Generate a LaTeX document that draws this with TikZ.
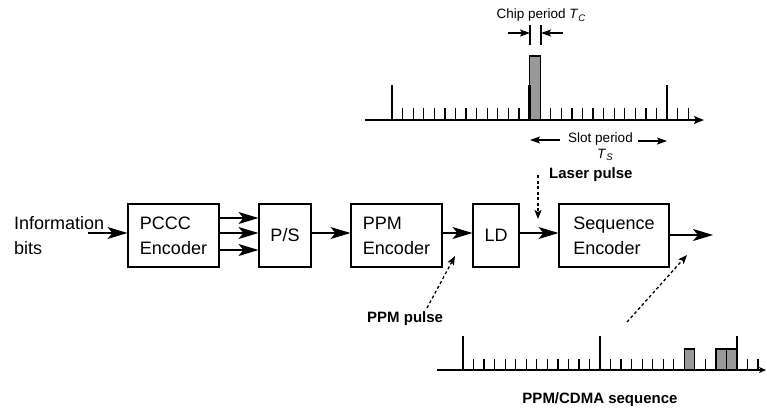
\documentclass[tikz,border=0pt]{standalone}
\usepackage{fontspec}
\setmainfont{Liberation Sans}
\usetikzlibrary{arrows.meta}
\begin{document}
\begin{tikzpicture}[x=1pt,y=-1pt,
  blk/.style={draw,line width=1.1pt,minimum height=63pt,inner sep=0pt,align=left,font=\fontsize{18}{25}\selectfont},
  big/.style={line width=1.1pt,-{Stealth[length=20pt,width=12pt,inset=5pt]}},
  dots/.style={line width=1.3pt,dash pattern=on 3pt off 2.5pt,-{Stealth[length=9pt,width=7pt,inset=2pt]}},
  smallarr/.style={line width=1.1pt,-{Stealth[length=10pt,width=7pt,inset=2pt]}},
  smalltxt/.style={font=\fontsize{13.5}{16}\selectfont,inner sep=0pt},
  boldtxt/.style={font=\fontsize{15}{18}\selectfont\bfseries,inner sep=0pt},
  axisln/.style={line width=1.6pt,-{Stealth[length=10pt,width=8pt,inset=2pt]}},
  tallt/.style={line width=2.6pt},
  shortt/.style={line width=1.3pt},
  chip/.style={draw,line width=1.2pt,fill=black!40}]
\useasboundingbox (0,0) rectangle (767,412);

% ---------- main chain ----------
\node[inner sep=0pt,align=left,anchor=west,font=\fontsize{18}{25}\selectfont] (info) at (14,236) {Information\\bits};
\coordinate (infoarr) at (88,233);
\node[blk,minimum width=91pt] (pccc) at (173.5,235.5) {PCCC\\Encoder};
\node[blk,minimum width=52pt] (ps) at (285,235.5) {P/S};
\node[blk,minimum width=91pt] (ppm) at (396.5,235.5) {PPM\\Encoder};
\node[blk,minimum width=46pt] (ld) at (496,235.5) {LD};
\node[blk,minimum width=110pt] (seq) at (614,235.5) {Sequence\\Encoder};
\coordinate (out) at (713,235);

\draw[big] (infoarr) -- (pccc.west |- infoarr);
\foreach \yy in {218,233,250} \draw[big] (pccc.east |- 0,\yy) -- (ps.west |- 0,\yy);
\draw[big] (ps.east |- 0,233) -- (ppm.west |- 0,233);
\draw[big] (ppm.east |- 0,233) -- (ld.west |- 0,233);
\draw[big] (ld.east |- 0,233) -- (seq.west |- 0,233);
\draw[big] (seq.east |- out) -- (out);

% ---------- top sequence ----------
\def\tz{392}\def\dz{10.58}
\draw[axisln] (365,120) -- (704,120);
\foreach \k in {1,...,12,15,16,...,25,27,28}
  \draw[shortt] (\tz+\k*\dz,120) -- (\tz+\k*\dz,108);
\draw[chip] (\tz+13*\dz,120) rectangle (\tz+14*\dz,56);
\foreach \k in {0,13,26}
  \draw[tallt] (\tz+\k*\dz,120) -- (\tz+\k*\dz,85);

% chip period
\node[smalltxt,anchor=base] (chipt) at (541,19) {Chip period \textit{T}\raisebox{-0.35ex}{\fontsize{9.5}{10}\selectfont\itshape C}};
\draw[line width=1.1pt] (530,25) -- (530,45);
\draw[line width=1.1pt] (541,25) -- (541,45);
\coordinate (cl) at (530,33);
\coordinate (cr) at (541,33);
\draw[smallarr] (508,33) -- (cl);
\draw[smallarr] (563,33) -- (cr);

% slot period
\node[smalltxt,anchor=base] (slot) at (600.5,142) {Slot period};
\coordinate (sl) at (530,140);
\coordinate (sr) at (667,141);
\draw[smallarr] (slot.west |- 0,140) ++(-8,0) -- (sl);
\draw[smallarr] (slot.east |- 0,141) ++(5,0) -- (sr);
\node[smalltxt,anchor=base west] (ts) at (597,158) {\textit{T}\raisebox{-0.35ex}{\fontsize{9.5}{10}\selectfont\itshape S}};

% laser pulse
\node[boldtxt,anchor=base west] (laser) at (549,178) {Laser pulse};
\coordinate (laserst) at (538,175);
\draw[dots] (laserst) -- (538,219);

% PPM pulse
\node[boldtxt,anchor=base west] (ppmp) at (367,322) {PPM pulse};
\coordinate (ppmst) at (427,308);
\coordinate (ppmend) at (455,256);
\draw[dots] (ppmst) -- (ppmend);

% ---------- bottom sequence ----------
\def\tb{463}\def\db{10.54}
\draw[line width=1.6pt,-{Stealth[length=7pt,width=6pt,inset=2pt]}] (437,370) -- (766,370);
\foreach \k in {1,...,12,14,15,...,20,23,27,28}
  \draw[shortt] (\tb+\k*\db,370) -- (\tb+\k*\db,359);
\foreach \k in {21,24,25}
  \draw[chip] (\tb+\k*\db,370) rectangle (\tb+\k*\db+\db,349);
\foreach \k in {0,13,26}
  \draw[tallt] (\tb+\k*\db,370) -- (\tb+\k*\db,336);

\node[boldtxt,anchor=base] (cdma) at (600,403) {PPM/CDMA sequence};
\coordinate (cdmast) at (627,322);
\coordinate (cdmaend) at (687,255);
\draw[dots] (cdmast) -- (cdmaend);
\end{tikzpicture}
\end{document}
